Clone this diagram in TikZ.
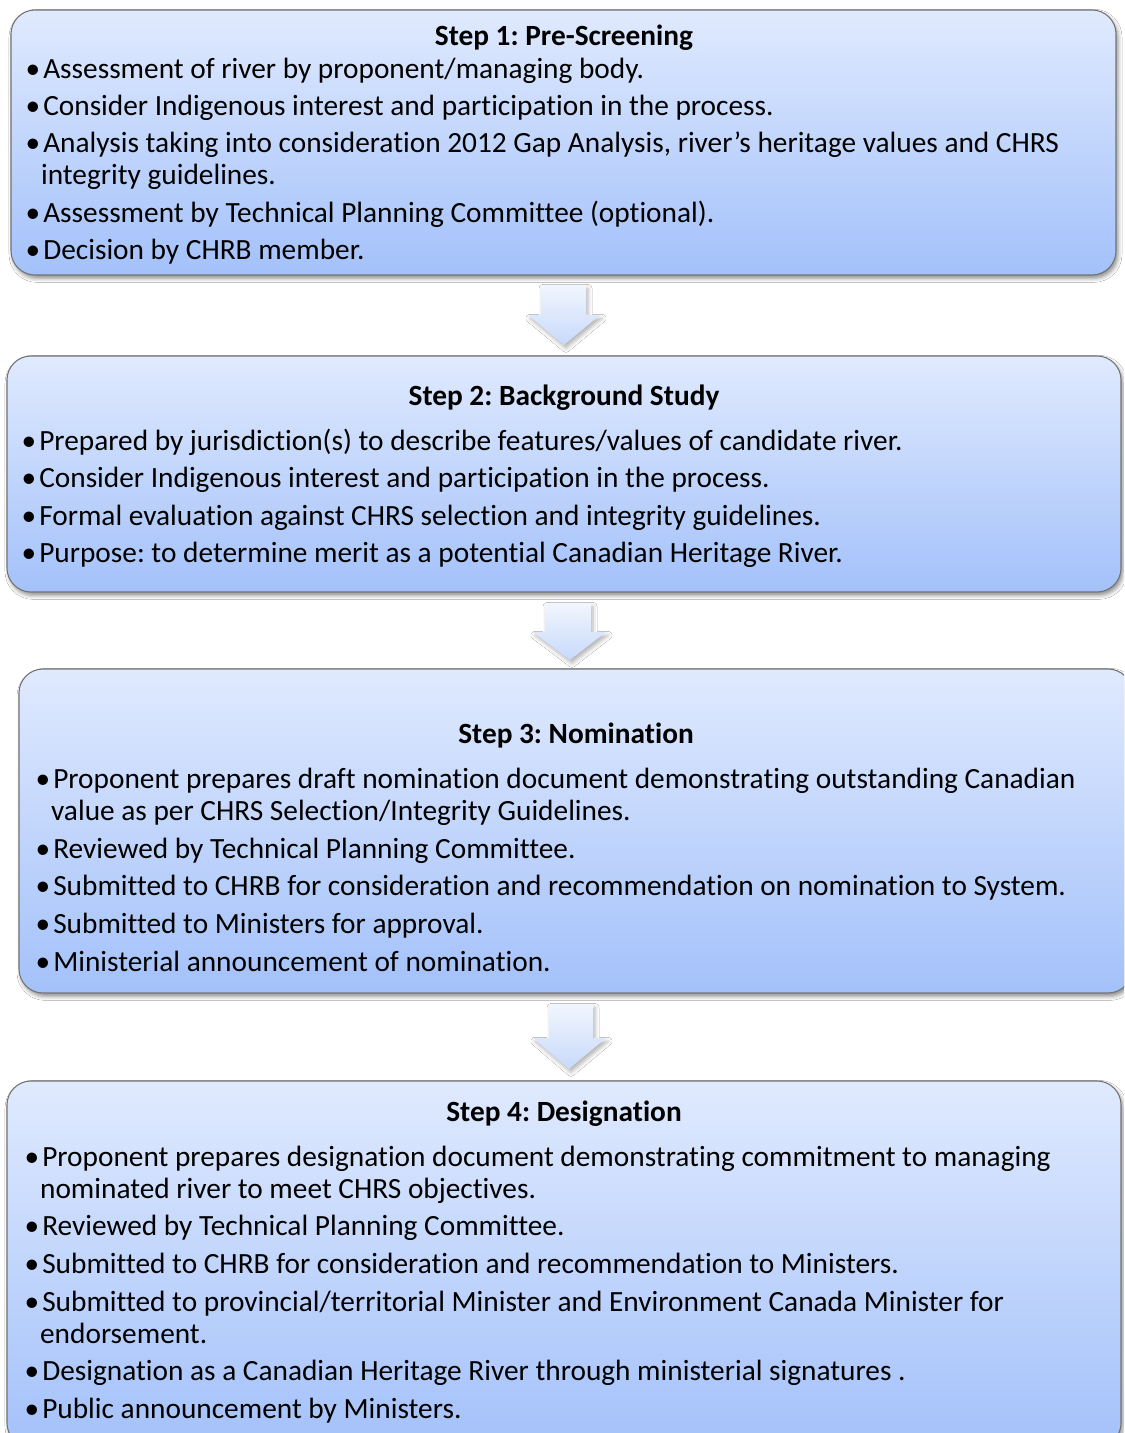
\documentclass[tikz,border=0pt]{standalone}
\usepackage{fontspec}
\setmainfont{Carlito}[Ligatures=NoCommon]
\usetikzlibrary{shadows.blur}
\definecolor{boxtop}{RGB}{224,234,254}
\definecolor{boxbot}{RGB}{163,193,250}
\definecolor{boxline}{RGB}{115,115,115}
\definecolor{arrtop}{RGB}{241,246,254}
\definecolor{arrbot}{RGB}{200,217,251}
\tikzset{
  stepbox/.style={draw=boxline, line width=0.8pt, rounded corners=18pt,
    top color=boxtop, bottom color=boxbot, inner sep=0pt,
    blur shadow={shadow xshift=1.5pt, shadow yshift=-2.5pt, shadow blur radius=3pt, shadow opacity=45}},
  flowarrow/.style={top color=arrtop, bottom color=arrbot, draw=none,
    blur shadow={shadow xshift=1.5pt, shadow yshift=-2.5pt, shadow blur radius=3pt, shadow opacity=30}},
  steptitle/.style={anchor=base, inner sep=0pt, font=\fontsize{22pt}{24pt}\selectfont\bfseries},
  item/.style={anchor=base west, inner sep=0pt, font=\fontsize{22pt}{24pt}\selectfont},
}
\newcommand{\bul}{\makebox[0pt][r]{•\kern 2.2pt}}
\newcommand{\twol}[2]{\begin{tabular}[t]{@{}l@{}}#1\\\kern-1.6pt #2\end{tabular}}
\frenchspacing
\begin{document}
\begin{tikzpicture}[x=0.75pt,y=-0.75pt]
\useasboundingbox (0,0) rectangle (1124,1433);
\clip (0,0) rectangle (1124,1433);
\fill[white] (0,0) rectangle (1124,1433);

% boxes
\node[stepbox, minimum width=828.75pt, minimum height=198.75pt] (b1) at (563.5,142.5) {};
\node[stepbox, minimum width=835.5pt, minimum height=177pt] (b2) at (564,474) {};
\node[stepbox, minimum width=834.75pt, minimum height=243pt] (b3) at (575.5,831) {};
\node[stepbox, minimum width=835.5pt, minimum height=274.5pt] (b4) at (564,1264) {};

% block arrows
\path[flowarrow] (541,285) -- (586,285) -- (586,315) -- (600,315) -- (564,345) -- (528,315) -- (541,315) -- cycle;
\path[flowarrow] (545,603) -- (591,603) -- (591,632) -- (606,632) -- (570,660) -- (533,632) -- (545,632) -- cycle;
\path[flowarrow] (549,1004) -- (593,1004) -- (593,1038) -- (606,1038) -- (569,1069) -- (533,1038) -- (549,1038) -- cycle;

% Step 1
\node[steptitle] (t1) at (564,46) {Step 1: Pre-Screening};
\node[item] (s1a) at (43,79) {\bul Assessment of river by proponent/managing body.};
\node[item] (s1b) at (43,116) {\bul Consider Indigenous interest and participation in the process.};
\node[item] (s1c) at (43,153) {\bul\twol{Analysis taking into consideration 2012 Gap Analysis, river’s heritage values and CHRS}{integrity guidelines.}};
\node[item] (s1d) at (43,223) {\bul Assessment by Technical Planning Committee (optional).};
\node[item] (s1e) at (43,260) {\bul Decision by CHRB member.};

% Step 2
\node[steptitle] (t2) at (564,405) {Step 2: Background Study};
\node[item] (s2a) at (39,450) {\bul Prepared by jurisdiction(s) to describe features/values of candidate river.};
\node[item] (s2b) at (39,487) {\bul Consider Indigenous interest and participation in the process.};
\node[item] (s2c) at (39,525) {\bul Formal evaluation against CHRS selection and integrity guidelines.};
\node[item] (s2d) at (39,562) {\bul Purpose: to determine merit as a potential Canadian Heritage River.};

% Step 3
\node[steptitle] (t3) at (576,743) {Step 3: Nomination};
\node[item] (s3a) at (53,788) {\bul\twol{Proponent prepares draft nomination document demonstrating outstanding Canadian}{value as per CHRS Selection/Integrity Guidelines.}};
\node[item] (s3b) at (53,858) {\bul Reviewed by Technical Planning Committee.};
\node[item] (s3c) at (53,895) {\bul Submitted to CHRB for consideration and recommendation on nomination to System.};
\node[item] (s3d) at (53,933) {\bul Submitted to Ministers for approval.};
\node[item] (s3e) at (53,971) {\bul Ministerial announcement of nomination.};

% Step 4
\node[steptitle] (t4) at (564,1121) {Step 4: Designation};
\node[item] (s4a) at (42,1166) {\bul\twol{Proponent prepares designation document demonstrating commitment to managing}{nominated river to meet CHRS objectives.}};
\node[item] (s4b) at (42,1235) {\bul Reviewed by Technical Planning Committee.};
\node[item] (s4c) at (42,1273) {\bul Submitted to CHRB for consideration and recommendation to Ministers.};
\node[item] (s4d) at (42,1311) {\bul\twol{Submitted to provincial/territorial Minister and Environment Canada Minister for}{endorsement.}};
\node[item] (s4e) at (42,1380) {\bul Designation as a Canadian Heritage River through ministerial signatures .};
\node[item] (s4f) at (42,1418) {\bul Public announcement by Ministers.};
\end{tikzpicture}
\end{document}
